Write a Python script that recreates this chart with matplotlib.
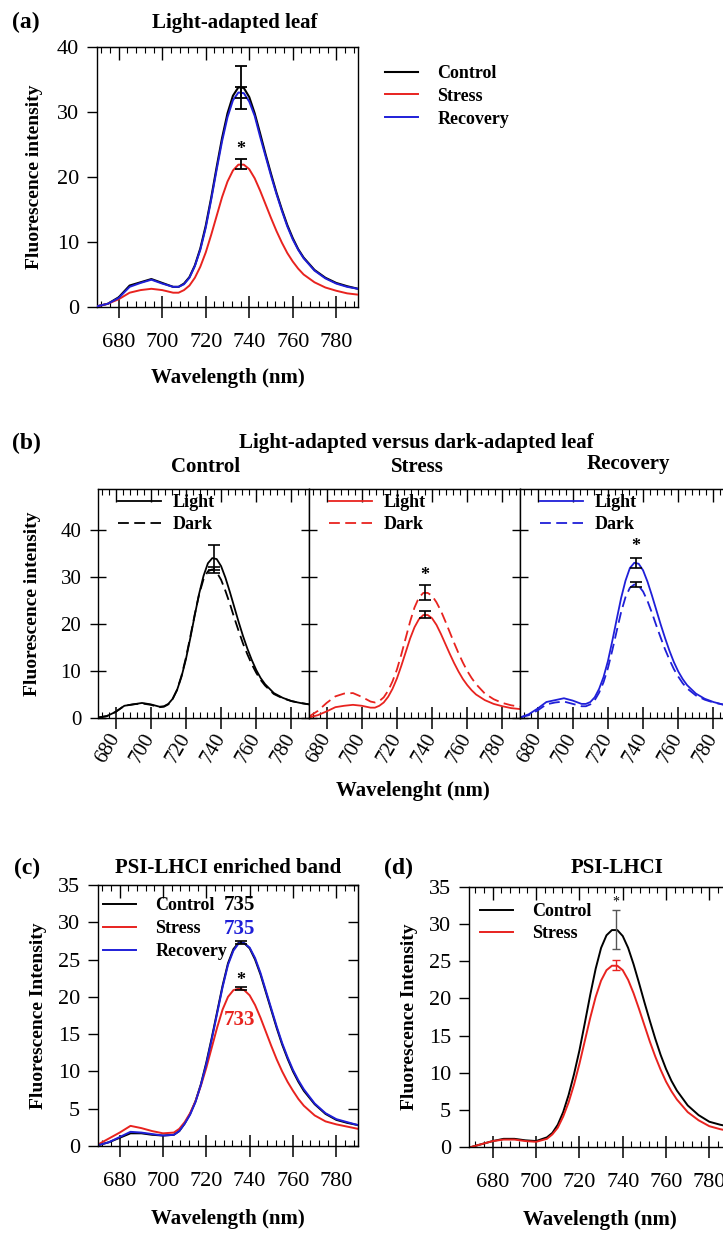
import matplotlib
matplotlib.use('Agg')
import matplotlib.pyplot as plt
from matplotlib.ticker import MultipleLocator

plt.rcParams['font.family'] = ['Liberation Serif', 'DejaVu Serif']

# ---------------- data ----------------
wavelength = [670, 675, 680, 685, 690, 695, 700,
              705, 707.5, 710, 712.5, 715, 717.5, 720, 722.5, 725, 727.5, 730, 732.5,
              735, 737.5, 740, 742.5, 745, 747.5, 750, 752.5, 755, 757.5, 760, 762.5, 765,
              770, 775, 780, 785, 790]

# (a) light-adapted leaf
a_control = [0.1, 0.5, 1.5, 3.3, 3.8, 4.3, 3.7,
             3.1, 3.1, 3.6, 4.6, 6.4, 9.0, 12.5, 16.8, 21.5, 26.0, 29.8, 32.5,
             33.8, 33.7, 32.3, 29.8, 26.7, 23.5, 20.5, 17.6, 15.0, 12.6, 10.6, 8.9, 7.6,
             5.7, 4.5, 3.7, 3.2, 2.8]
a_stress = [0.1, 0.5, 1.2, 2.2, 2.6, 2.8, 2.6,
            2.2, 2.2, 2.6, 3.3, 4.5, 6.2, 8.4, 11.1, 14.0, 16.9, 19.3, 21.0,
            21.9, 21.9, 21.2, 19.8, 17.9, 15.8, 13.7, 11.7, 9.9, 8.3, 7.0, 5.9, 5.0,
            3.8, 3.0, 2.5, 2.1, 1.9]
a_recovery = [0.1, 0.5, 1.4, 3.1, 3.7, 4.2, 3.6,
              3.1, 3.1, 3.5, 4.5, 6.3, 8.8, 12.2, 16.5, 21.1, 25.5, 29.2, 31.8,
              33.0, 32.9, 31.6, 29.4, 26.2, 23.2, 20.2, 17.4, 14.8, 12.4, 10.4, 8.8, 7.5,
              5.6, 4.4, 3.6, 3.1, 2.8]
a_err_x = [736, 736, 736]
a_err_mean = [33.8, 22.0, 33.0]
a_err_sd = [3.3, 0.8, 0.8]

# (b) light vs dark adapted
b_control_light = [0.1, 0.4, 1.3, 2.6, 2.9, 3.2, 2.9,
                   2.4, 2.5, 3.0, 4.1, 6.0, 8.8, 12.5, 17.0, 21.8, 26.4, 30.2, 32.9,
                   34.0, 33.8, 32.3, 29.8, 26.8, 23.6, 20.4, 17.4, 14.7, 12.3, 10.2, 8.5, 7.2,
                   5.3, 4.3, 3.6, 3.2, 2.9]
b_control_dark = [0.1, 0.4, 1.3, 2.6, 2.9, 3.1, 2.8,
                  2.3, 2.4, 2.9, 4.1, 6.0, 9.0, 12.8, 17.3, 22.0, 26.3, 29.5, 31.2,
                  31.6, 31.0, 29.4, 27.0, 24.3, 21.3, 18.5, 15.8, 13.5, 11.4, 9.6, 8.1, 6.9,
                  5.1, 4.2, 3.6, 3.2, 2.9]
b_stress_light = [0.1, 0.6, 1.4, 2.3, 2.6, 2.8, 2.6,
                  2.2, 2.2, 2.6, 3.3, 4.5, 6.2, 8.4, 11.1, 14.0, 16.9, 19.3, 21.0,
                  21.9, 21.9, 21.2, 19.8, 17.9, 15.8, 13.7, 11.7, 9.9, 8.3, 7.0, 5.9, 5.0,
                  3.8, 3.0, 2.5, 2.1, 1.9]
b_stress_dark = [0.3, 1.5, 3.2, 4.6, 5.2, 5.3, 4.5,
                 3.5, 3.3, 3.6, 4.4, 5.8, 7.8, 10.3, 13.5, 17.0, 20.5, 23.5, 25.6,
                 26.6, 26.6, 26.0, 24.6, 22.8, 20.6, 18.3, 16.0, 13.8, 11.8, 10.0, 8.5, 7.2,
                 5.2, 4.0, 3.2, 2.7, 2.4]
b_recovery_light = [0.1, 0.8, 2.0, 3.4, 3.8, 4.2, 3.7,
                    3.0, 3.0, 3.4, 4.4, 6.2, 8.7, 12.1, 16.4, 21.0, 25.5, 29.2, 31.9,
                    33.0, 32.8, 31.4, 29.0, 26.1, 23.0, 19.9, 17.0, 14.3, 11.9, 9.9, 8.3, 7.0,
                    5.2, 4.1, 3.4, 2.9, 2.6]
b_recovery_dark = [0.1, 0.6, 1.6, 2.9, 3.3, 3.5, 3.0,
                   2.5, 2.5, 2.9, 3.8, 5.4, 7.6, 10.6, 14.4, 18.5, 22.5, 25.7, 27.7,
                   28.4, 28.1, 26.9, 24.9, 22.4, 19.7, 17.1, 14.6, 12.4, 10.4, 8.8, 7.4, 6.3,
                   4.8, 3.9, 3.3, 2.9, 2.6]
b_err_light_mean = [34.1, 22.0, 33.0]
b_err_light_sd = [2.6, 0.7, 1.0]
b_err_dark_mean = [31.5, 26.7, 28.4]
b_err_dark_sd = [0.6, 1.6, 0.5]
b_titles = ['Control', 'Stress', 'Recovery']
b_colors = ['black', '#e8231f', '#1f1fd8']

# (c) PSI-LHCI enriched band
c_control = [0.1, 0.5, 1.1, 1.7, 1.7, 1.5, 1.4,
             1.5, 2.0, 3.0, 4.3, 6.0, 8.3, 11.2, 14.5, 18.0, 21.5, 24.5, 26.4,
             27.3, 27.2, 26.5, 25.0, 23.0, 20.6, 18.2, 15.8, 13.6, 11.7, 10.0, 8.6, 7.4,
             5.6, 4.3, 3.5, 3.1, 2.8]
c_stress = [0.2, 1.0, 1.8, 2.7, 2.4, 2.0, 1.7,
            1.8, 2.3, 3.2, 4.4, 6.0, 8.1, 10.5, 13.2, 15.9, 18.3, 20.0, 20.9,
            21.1, 20.9, 20.2, 18.9, 17.2, 15.3, 13.4, 11.6, 10.0, 8.6, 7.4, 6.3, 5.4,
            4.1, 3.3, 2.9, 2.6, 2.3]
c_recovery = [0.1, 0.5, 1.2, 1.9, 1.8, 1.6, 1.4,
              1.5, 2.0, 3.0, 4.2, 5.9, 8.2, 11.0, 14.3, 17.8, 21.3, 24.3, 26.2,
              27.2, 27.2, 26.6, 25.2, 23.2, 20.8, 18.4, 16.0, 13.8, 11.9, 10.2, 8.8, 7.6,
              5.7, 4.4, 3.6, 3.2, 2.8]
c_err_mean = [27.3, 21.1]
c_err_sd = [0.25, 0.2]
c_peak_labels = ['735', '735', '733']

# (d) PSI-LHCI
d_control = [0.0, 0.4, 0.8, 1.1, 1.1, 0.9, 0.8,
             1.3, 1.9, 3.0, 4.7, 7.0, 9.8, 13.0, 16.7, 20.5, 24.0, 26.8, 28.5,
             29.2, 29.2, 28.4, 26.8, 24.6, 22.1, 19.5, 17.0, 14.6, 12.4, 10.5, 8.9, 7.6,
             5.6, 4.3, 3.4, 3.0, 2.7]
d_stress = [0.0, 0.4, 0.8, 1.0, 1.0, 0.8, 0.7,
            1.1, 1.7, 2.6, 4.1, 6.0, 8.4, 11.2, 14.3, 17.4, 20.2, 22.4, 23.8,
            24.4, 24.4, 23.8, 22.5, 20.7, 18.6, 16.4, 14.2, 12.2, 10.4, 8.8, 7.5, 6.4,
            4.7, 3.6, 2.8, 2.4, 2.1]
d_err_mean = [29.3, 24.5]
d_err_sd = [2.6, 0.7]

BLACK, RED, BLUE = 'black', '#e8231f', '#1f1fd8'

# ---------------- figure ----------------
W, H = 723, 1234
fig = plt.figure(figsize=(W / 100, H / 100), dpi=100)


def ax_px(l, t, r, b):
    return fig.add_axes([l / W, 1 - b / H, (r - l) / W, (b - t) / H])


def fx(x):
    return x / W


def fy(y):
    return 1 - y / H


def style(ax, xlim, ylim, ystep, ydir='out', right=False, labelsize=16, ylen=7,
          xpad=11, ypad=6):
    ax.set_xlim(*xlim)
    ax.set_ylim(*ylim)
    ax.set_xticks(range(680, 781, 20))
    ax.xaxis.set_minor_locator(MultipleLocator(4))
    ax.yaxis.set_major_locator(MultipleLocator(ystep))
    ax.tick_params(axis='x', which='major', direction='inout', length=16, width=1.1,
                   labelsize=labelsize, pad=xpad)
    ax.tick_params(axis='x', which='minor', direction='in', length=4, width=0.8)
    ax.tick_params(axis='y', which='major', direction=ydir, length=ylen, width=1.0,
                   labelsize=labelsize, pad=ypad)
    if right:
        sec_y = ax.secondary_yaxis('right')
        sec_y.yaxis.set_major_locator(MultipleLocator(ystep))
        sec_y.tick_params(direction='in', length=7, width=1.0, labelright=False)
    sec = ax.secondary_xaxis('top')
    sec.set_xticks(range(680, 781, 20))
    sec.xaxis.set_minor_locator(MultipleLocator(4))
    sec.tick_params(which='major', direction='in', length=9, width=1.0, labeltop=False)
    sec.tick_params(which='minor', direction='in', length=4, width=0.8)
    for s in ax.spines.values():
        s.set_linewidth(1.0)


# ---------- (a) ----------
axA = ax_px(97, 47, 358, 307)
axA.plot(wavelength, a_control, color=BLACK, lw=1.5, label='Control', zorder=3)
axA.plot(wavelength, a_stress, color=RED, lw=1.4, label='Stress', zorder=3)
axA.plot(wavelength, a_recovery, color=BLUE, lw=1.4, label='Recovery', zorder=3)
for x, m, s in zip(a_err_x, a_err_mean, a_err_sd):
    axA.errorbar(x, m, yerr=s, color=BLACK, capsize=4, elinewidth=1.3, capthick=1.3, zorder=4)
axA.text(736, 24.3, '*', ha='center', va='center', fontsize=13, fontweight='bold')
style(axA, (670, 790), (0, 40), 10)
axA.set_xlabel('Wavelength (nm)', fontsize=15, fontweight='bold', labelpad=11)
axA.set_ylabel('Fluorescence intensity', fontsize=14, fontweight='bold', labelpad=10)
fig.text(fx(235), fy(23), 'Light-adapted leaf', ha='center', va='center', fontsize=15,
         fontweight='bold')
fig.text(fx(12), fy(22), '(a)', ha='left', va='center', fontsize=17, fontweight='bold')
fig.legend(handles=axA.get_lines()[:3], loc='upper left',
           bbox_to_anchor=(fx(385), fy(65)), frameon=False, borderpad=0, borderaxespad=0,
           handlelength=1.8, handletextpad=1.1, labelspacing=0.32,
           prop={'size': 13, 'weight': 'bold'})

# ---------- (b) ----------
b_light = [b_control_light, b_stress_light, b_recovery_light]
b_dark = [b_control_dark, b_stress_dark, b_recovery_dark]
lefts = [98, 309, 520]
for i in range(3):
    ax = ax_px(lefts[i], 489, lefts[i] + 211, 718)
    c = b_colors[i]
    ax.plot(wavelength, b_light[i], color=c, lw=1.3, label='Light')
    ax.plot(wavelength, b_dark[i], color=c, lw=1.3, ls=(0, (6, 3)), label='Dark')
    ax.errorbar(736, b_err_light_mean[i], yerr=b_err_light_sd[i], color=BLACK, capsize=4,
                elinewidth=1.2, capthick=1.2, zorder=4)
    ax.errorbar(736, b_err_dark_mean[i], yerr=b_err_dark_sd[i], color=BLACK, capsize=4,
                elinewidth=1.2, capthick=1.2, zorder=4)
    style(ax, (670, 790), (0, 48.7), 10, ydir='inout', ylen=12, labelsize=15, xpad=4)
    ax.set_yticks([0, 10, 20, 30, 40])
    for lab in ax.get_xticklabels():
        lab.set_rotation(60)
        lab.set_ha('right')
        lab.set_va('center')
        lab.set_rotation_mode('anchor')
    if i > 0:
        ax.tick_params(axis='y', labelleft=False)
        star_y = (b_err_light_mean[i] + b_err_light_sd[i] + 2.4 if i == 2 else
                  b_err_dark_mean[i] + b_err_dark_sd[i] + 2.0)
        ax.text(736, star_y, '*', ha='center', va='center', fontsize=13, fontweight='bold')
    else:
        ax.set_ylabel('Fluorescence intensity', fontsize=14, fontweight='bold', labelpad=14)
    ax.legend(loc='upper left', bbox_to_anchor=(20 / 211, 1 - 5 / 229), frameon=False,
              borderpad=0, borderaxespad=0, handlelength=2.4, handletextpad=0.6,
              labelspacing=0.3, prop={'size': 13, 'weight': 'bold'})
    fig.text(fx(lefts[i] + 108), fy(467 if i < 2 else 464), b_titles[i], ha='center',
             va='center', fontsize=15, fontweight='bold')

fig.text(fx(416), fy(443), 'Light-adapted versus dark-adapted leaf', ha='center',
         va='center', fontsize=15, fontweight='bold')
fig.text(fx(12), fy(443), '(b)', ha='left', va='center', fontsize=17, fontweight='bold')
fig.text(fx(413), fy(791), 'Wavelenght (nm)', ha='center', va='center', fontsize=15,
         fontweight='bold')

# ---------- (c) ----------
axC = ax_px(98, 885, 358, 1146)
axC.plot(wavelength, c_control, color=BLACK, lw=1.4, label='Control')
axC.plot(wavelength, c_stress, color=RED, lw=1.4, label='Stress')
axC.plot(wavelength, c_recovery, color=BLUE, lw=1.4, label='Recovery')
axC.errorbar(736, c_err_mean[0], yerr=c_err_sd[0], color=BLACK, capsize=4, elinewidth=1.2,
             capthick=1.2, zorder=4)
axC.errorbar(736, c_err_mean[1], yerr=c_err_sd[1], color=BLACK, capsize=4, elinewidth=1.2,
             capthick=1.2, zorder=4)
axC.text(735.7, 22.2, '*', ha='center', va='center', fontsize=13, fontweight='bold')
axC.text(735.5, 32.3, c_peak_labels[0], color=BLACK, ha='center', va='center', fontsize=15,
         fontweight='bold')
axC.text(735.5, 29.1, c_peak_labels[1], color=BLUE, ha='center', va='center', fontsize=15,
         fontweight='bold')
axC.text(735.5, 16.9, c_peak_labels[2], color=RED, ha='center', va='center', fontsize=15,
         fontweight='bold')
style(axC, (670, 790), (0, 35), 5, right=True)
axC.set_xlabel('Wavelength (nm)', fontsize=15, fontweight='bold', labelpad=13)
axC.set_ylabel('Fluorescence Intensity', fontsize=14, fontweight='bold', labelpad=8)
axC.legend(loc='upper left', bbox_to_anchor=(5 / 260, 1 - 12 / 261), frameon=False,
           borderpad=0, borderaxespad=0, handlelength=1.8, handletextpad=1.1,
           labelspacing=0.34, prop={'size': 13, 'weight': 'bold'})
fig.text(fx(228), fy(868), 'PSI-LHCI enriched band', ha='center', va='center', fontsize=15,
         fontweight='bold')
fig.text(fx(14), fy(868), '(c)', ha='left', va='center', fontsize=17, fontweight='bold')

# ---------- (d) ----------
axD = ax_px(469, 887, 731, 1147)
axD.plot(wavelength, d_control, color=BLACK, lw=1.4, label='Control')
axD.plot(wavelength, d_stress, color=RED, lw=1.4, label='Stress')
axD.errorbar(737, d_err_mean[0], yerr=d_err_sd[0], color='#555555', capsize=3,
             elinewidth=1.0, capthick=1.0, zorder=4)
axD.errorbar(737, d_err_mean[1], yerr=d_err_sd[1], color=RED, capsize=3, elinewidth=1.0,
             capthick=1.0, zorder=4)
axD.text(737, 33.0, '*', ha='center', va='center', fontsize=10)
style(axD, (669, 790), (0, 35), 5)
axD.set_xlabel('Wavelength (nm)', fontsize=15, fontweight='bold', labelpad=13)
axD.set_ylabel('Fluorescence Intensity', fontsize=14, fontweight='bold', labelpad=8)
axD.legend(loc='upper left', bbox_to_anchor=(11 / 262, 1 - 16 / 260), frameon=False,
           borderpad=0, borderaxespad=0, handlelength=1.8, handletextpad=1.1,
           labelspacing=0.3, prop={'size': 13, 'weight': 'bold'})
fig.text(fx(617), fy(868), 'PSI-LHCI', ha='center', va='center', fontsize=15,
         fontweight='bold')
fig.text(fx(384), fy(868), '(d)', ha='left', va='center', fontsize=17, fontweight='bold')

fig.savefig('out.png', dpi=100)
